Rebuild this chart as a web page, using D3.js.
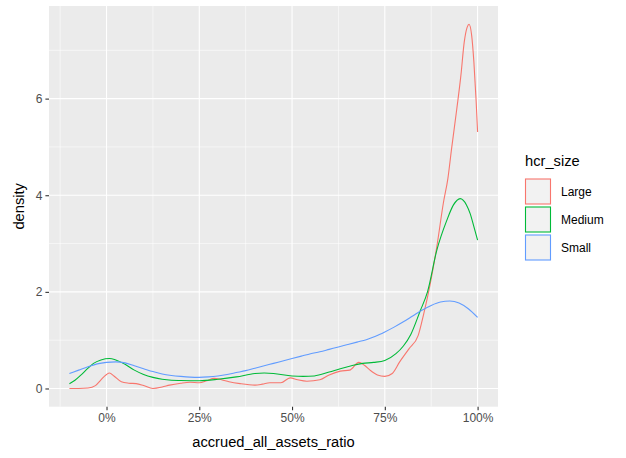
<!DOCTYPE html>
<html><head><meta charset="utf-8">
<script src="https://cdn.jsdelivr.net/npm/d3@7"></script>
<style>body{margin:0;background:#fff}svg{display:block;font-family:Arial,"Liberation Sans",sans-serif}</style>
</head><body><svg id="c" width="626" height="458"></svg>
<script>
const groups = ["Large", "Medium", "Small"];
const colors = ["#F8766D", "#00BA38", "#619CFF"];
const xTicks = [0, 0.25, 0.5, 0.75, 1];
const xTickLabels = ["0%", "25%", "50%", "75%", "100%"];
const yTicks = [0, 2, 4, 6];

const largeX = [-0.1,-0.075,-0.05,-0.03,-0.015,0,0.008,0.02,0.04,0.06,0.08,0.1,0.125,0.15,0.17,0.2,0.225,0.25,0.27,0.29,0.31,0.33,0.36,0.4,0.42,0.44,0.47,0.495,0.515,0.54,0.575,0.6,0.63,0.655,0.68,0.695,0.71,0.73,0.75,0.77,0.79,0.815,0.84,0.855,0.872,0.89,0.908,0.92,0.93,0.944,0.955,0.964,0.972,0.977,0.984,0.99,0.996,1.0];
const largeY = [0,0,0.01,0.06,0.18,0.29,0.32,0.26,0.14,0.11,0.10,0.06,0.0,0.03,0.07,0.11,0.13,0.12,0.16,0.21,0.18,0.14,0.10,0.07,0.09,0.12,0.12,0.22,0.18,0.15,0.18,0.28,0.36,0.38,0.54,0.48,0.38,0.28,0.25,0.31,0.55,0.82,1.1,1.55,2.15,2.93,3.85,4.35,4.97,5.79,6.48,7.17,7.48,7.54,7.31,6.76,5.96,5.31];

const mediumX = [-0.1,-0.085,-0.07,-0.05,-0.035,-0.015,0.008,0.025,0.05,0.075,0.1,0.125,0.15,0.175,0.2,0.25,0.3,0.35,0.4,0.425,0.45,0.5,0.53,0.56,0.6,0.63,0.66,0.69,0.72,0.75,0.78,0.8,0.82,0.845,0.865,0.89,0.917,0.935,0.953,0.97,0.98,0.99,1.0];
const mediumY = [0.10,0.17,0.27,0.42,0.52,0.59,0.62,0.59,0.50,0.38,0.29,0.23,0.19,0.17,0.165,0.16,0.19,0.24,0.31,0.32,0.31,0.26,0.25,0.26,0.34,0.41,0.47,0.52,0.54,0.58,0.72,0.88,1.12,1.6,2.0,2.86,3.48,3.8,3.93,3.8,3.62,3.35,3.07];

const smallX = [-0.1,-0.075,-0.05,-0.025,0,0.025,0.05,0.075,0.1,0.125,0.15,0.175,0.2,0.225,0.25,0.275,0.3,0.325,0.35,0.375,0.4,0.425,0.45,0.475,0.5,0.525,0.55,0.575,0.6,0.625,0.65,0.675,0.7,0.725,0.75,0.775,0.8,0.825,0.85,0.875,0.9,0.925,0.95,0.975,1.0];
const smallY = [0.31,0.38,0.45,0.51,0.54,0.55,0.53,0.47,0.41,0.35,0.30,0.27,0.25,0.235,0.23,0.24,0.26,0.29,0.33,0.37,0.42,0.47,0.52,0.57,0.62,0.67,0.72,0.76,0.81,0.86,0.91,0.96,1.01,1.08,1.17,1.27,1.38,1.50,1.62,1.72,1.79,1.81,1.77,1.65,1.47];

const series = [
  {name: groups[0], xs: largeX, ys: largeY, color: colors[0]},
  {name: groups[1], xs: mediumX, ys: mediumY, color: colors[1]},
  {name: groups[2], xs: smallX, ys: smallY, color: colors[2]}
];

const svg = d3.select("#c");
const P = {l: 49, r: 498, t: 6, b: 406.7};
const xmin = -0.1, xmax = 1.0, ymin = 0, ymax = 7.54;
const xe = (xmax - xmin) * 0.05, ye = (ymax - ymin) * 0.05;
const x = d3.scaleLinear().domain([xmin - xe, xmax + xe]).range([P.l, P.r]);
const y = d3.scaleLinear().domain([ymin - ye, ymax + ye]).range([P.b, P.t]);

svg.append("rect").attr("x", P.l).attr("y", P.t).attr("width", P.r - P.l).attr("height", P.b - P.t).attr("fill", "#EBEBEB");

const g = svg.append("g");
const xMinor = [-0.125, 0.125, 0.375, 0.625, 0.875];
const yMinor = [1, 3, 5, 7];
xMinor.forEach(v => g.append("line").attr("x1", x(v)).attr("x2", x(v)).attr("y1", P.t).attr("y2", P.b).attr("stroke", "#fff").attr("stroke-width", 0.55));
yMinor.forEach(v => g.append("line").attr("y1", y(v)).attr("y2", y(v)).attr("x1", P.l).attr("x2", P.r).attr("stroke", "#fff").attr("stroke-width", 0.55));
xTicks.forEach(v => g.append("line").attr("x1", x(v)).attr("x2", x(v)).attr("y1", P.t).attr("y2", P.b).attr("stroke", "#fff").attr("stroke-width", 1.1));
yTicks.forEach(v => g.append("line").attr("y1", y(v)).attr("y2", y(v)).attr("x1", P.l).attr("x2", P.r).attr("stroke", "#fff").attr("stroke-width", 1.1));

const line = d3.line().x(d => x(d[0])).y(d => y(d[1])).curve(d3.curveMonotoneX);
series.forEach(s => {
  const pts = s.xs.map((v, i) => [v, s.ys[i]]);
  svg.append("path").attr("d", line(pts)).attr("fill", "none").attr("stroke", s.color).attr("stroke-width", 1.1);
});

// axes
const xa = svg.append("g").attr("transform", `translate(0,${P.b})`)
  .call(d3.axisBottom(x).tickValues(xTicks).tickFormat((d, i) => xTickLabels[i]).tickSize(3.6).tickPadding(3));
const ya = svg.append("g").attr("transform", `translate(${P.l},0)`)
  .call(d3.axisLeft(y).tickValues(yTicks).tickSize(3.6).tickPadding(3));
[xa, ya].forEach(a => {
  a.select(".domain").remove();
  a.selectAll(".tick line").attr("stroke", "#333333").attr("stroke-width", 1.1);
  a.selectAll(".tick text").attr("fill", "#4D4D4D").attr("font-size", "12px").attr("font-family", "Arial, 'Liberation Sans', sans-serif");
});

svg.append("text").attr("x", (P.l + P.r) / 2).attr("y", 447).attr("text-anchor", "middle")
  .attr("font-size", "14.7px").attr("fill", "#000").text("accrued_all_assets_ratio");
svg.append("text").attr("transform", `translate(24,${(P.t + P.b) / 2}) rotate(-90)`).attr("text-anchor", "middle")
  .attr("font-size", "14.7px").attr("fill", "#000").text("density");

// legend
const lg = svg.append("g");
lg.append("text").attr("x", 525).attr("y", 166).attr("font-size", "14.7px").attr("fill", "#000").text("hcr_size");
series.forEach((s, i) => {
  const top = 178.5 + i * 28;
  lg.append("rect").attr("x", 525.5).attr("y", top + 0.5).attr("width", 25).attr("height", 25)
    .attr("fill", "#F2F2F2").attr("stroke", s.color).attr("stroke-width", 1.1);
  lg.append("text").attr("x", 561).attr("y", top + 13).attr("dy", "0.36em").attr("font-size", "12px").attr("fill", "#000").text(s.name);
});
</script></body></html>
